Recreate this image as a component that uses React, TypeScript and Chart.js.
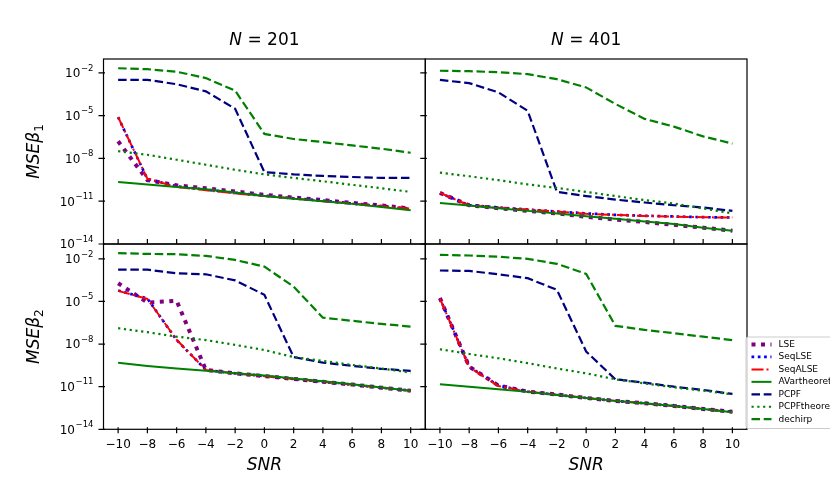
import React, { useEffect, useRef } from 'react';
import { Chart, registerables } from 'chart.js';

Chart.register(...registerables);

// SNR (dB) on the x axis, same for every panel
const snr = [-10, -8, -6, -4, -2, 0, 2, 4, 6, 8, 10];
const yTickExps = [-14, -11, -8, -5, -2];
const seriesNames = ['LSE', 'SeqLSE', 'SeqALSE', 'AVartheoretical', 'PCPF', 'PCPFtheoretical', 'dechirp'];

// beta1, N = 201
const lseB1N201 = [1.6e-7, 3.0e-10, 1.3e-10, 8.1e-11, 4.8e-11, 2.8e-11, 1.8e-11, 1.2e-11, 7.6e-12, 5.0e-12, 3.1e-12];
const seqLseB1N201 = [7.8e-6, 3.6e-10, 1.1e-10, 6.5e-11, 3.9e-11, 2.4e-11, 1.6e-11, 1.1e-11, 7.0e-12, 4.6e-12, 3.0e-12];
const seqAlseB1N201 = [7.8e-6, 3.8e-10, 1.0e-10, 5.9e-11, 3.5e-11, 2.3e-11, 1.6e-11, 1.0e-11, 6.9e-12, 4.5e-12, 3.0e-12];
const avB1N201 = [2.2e-10, 1.5e-10, 1.0e-10, 6.9e-11, 4.1e-11, 2.3e-11, 1.5e-11, 1.0e-11, 6.5e-12, 4.0e-12, 2.3e-12];
const pcpfB1N201 = [3.2e-3, 3.2e-3, 1.6e-3, 5.0e-4, 3.0e-5, 1.1e-9, 7.6e-10, 5.9e-10, 5.0e-10, 4.3e-10, 4.3e-10];
const pcpfThB1N201 = [3.2e-8, 1.8e-8, 8.1e-9, 3.6e-9, 1.6e-9, 7.6e-10, 4.3e-10, 2.5e-10, 1.4e-10, 8.1e-11, 4.5e-11];
const dechirpB1N201 = [2.1e-2, 1.8e-2, 1.2e-2, 4.3e-3, 5.6e-4, 5.2e-7, 2.3e-7, 1.4e-7, 8.1e-8, 4.8e-8, 2.5e-8];

// beta1, N = 401
const lseB1N401 = [3.8e-11, 5.2e-12, 3.2e-12, 2.1e-12, 1.4e-12, 8.1e-13, 5.2e-13, 3.5e-13, 2.2e-13, 1.4e-13, 8.5e-14];
const seqLseB1N401 = [3.8e-11, 5.2e-12, 3.6e-12, 2.6e-12, 1.9e-12, 1.4e-12, 1.1e-12, 9.5e-13, 8.5e-13, 7.6e-13, 7.2e-13];
const seqAlseB1N401 = [3.9e-11, 5.0e-12, 3.5e-12, 2.6e-12, 1.9e-12, 1.3e-12, 1.1e-12, 9.3e-13, 8.4e-13, 7.5e-13, 7.1e-13];
const avB1N401 = [7.6e-12, 5.0e-12, 3.2e-12, 2.1e-12, 1.4e-12, 8.9e-13, 5.9e-13, 3.8e-13, 2.5e-13, 1.4e-13, 8.5e-14];
const pcpfB1N401 = [3.2e-3, 1.9e-3, 4.3e-4, 2.2e-5, 4.5e-11, 2.3e-11, 1.3e-11, 8.1e-12, 5.2e-12, 3.6e-12, 2.1e-12];
const pcpfThB1N401 = [1.0e-9, 5.6e-10, 3.0e-10, 1.5e-10, 8.5e-11, 4.5e-11, 2.3e-11, 1.2e-11, 6.9e-12, 3.1e-12, 1.4e-12];
const dechirpB1N401 = [1.4e-2, 1.3e-2, 1.1e-2, 8.1e-3, 3.6e-3, 9.5e-4, 6.6e-5, 5.9e-6, 1.7e-6, 3.5e-7, 1.1e-7];

// beta2, N = 201
const lseB2N201 = [1.9e-4, 8.3e-6, 1.1e-5, 1.5e-10, 8.7e-11, 5.6e-11, 3.5e-11, 2.2e-11, 1.4e-11, 8.5e-12, 5.2e-12];
const seqLseB2N201 = [5.8e-5, 1.6e-5, 1.9e-8, 1.5e-10, 8.7e-11, 5.6e-11, 3.5e-11, 2.2e-11, 1.4e-11, 8.5e-12, 5.2e-12];
const seqAlseB2N201 = [5.5e-5, 1.5e-5, 2.0e-8, 1.5e-10, 8.5e-11, 5.5e-11, 3.5e-11, 2.2e-11, 1.4e-11, 8.4e-12, 5.1e-12];
const avB2N201 = [4.9e-10, 2.9e-10, 1.9e-10, 1.3e-10, 8.7e-11, 6.0e-11, 3.7e-11, 2.4e-11, 1.5e-11, 8.9e-12, 5.2e-12];
const pcpfB2N201 = [1.7e-3, 1.7e-3, 9.5e-4, 8.1e-4, 3.0e-4, 2.9e-5, 1.2e-9, 4.9e-10, 2.9e-10, 1.8e-10, 1.3e-10];
const pcpfThB2N201 = [1.3e-7, 6.8e-8, 3.3e-8, 1.9e-8, 8.7e-9, 3.8e-9, 1.2e-9, 6.5e-10, 3.4e-10, 1.9e-10, 9.8e-11];
const dechirpB2N201 = [2.5e-2, 2.2e-2, 2.1e-2, 1.6e-2, 8.3e-3, 2.8e-3, 1.1e-4, 7.2e-7, 4.3e-7, 2.6e-7, 1.7e-7];

// beta2, N = 401
const lseB2N401 = [1.7e-5, 2.6e-10, 1.2e-11, 4.5e-12, 2.8e-12, 1.6e-12, 1.0e-12, 6.8e-13, 4.4e-13, 2.7e-13, 1.7e-13];
const seqLseB2N401 = [1.7e-5, 2.5e-10, 1.2e-11, 4.4e-12, 2.7e-12, 1.6e-12, 1.0e-12, 6.8e-13, 4.4e-13, 2.7e-13, 1.7e-13];
const seqAlseB2N401 = [1.6e-5, 2.4e-10, 1.1e-11, 4.4e-12, 2.7e-12, 1.6e-12, 1.0e-12, 6.7e-13, 4.3e-13, 2.7e-13, 1.6e-13];
const avB2N401 = [1.5e-11, 1.0e-11, 6.5e-12, 4.3e-12, 2.6e-12, 1.6e-12, 1.0e-12, 6.8e-13, 4.4e-13, 2.7e-13, 1.6e-13];
const pcpfB2N401 = [1.5e-3, 1.4e-3, 8.1e-4, 4.3e-4, 6.5e-5, 3.0e-9, 3.3e-11, 1.9e-11, 1.0e-11, 5.9e-12, 3.1e-12];
const pcpfThB2N401 = [4.3e-9, 2.0e-9, 1.0e-9, 4.5e-10, 1.9e-10, 8.7e-11, 3.3e-11, 1.7e-11, 8.9e-12, 5.2e-12, 2.9e-12];
const dechirpB2N401 = [1.9e-2, 1.7e-2, 1.4e-2, 9.8e-3, 4.4e-3, 8.7e-4, 1.9e-7, 9.8e-8, 5.8e-8, 3.3e-8, 1.9e-8];

const W = 830;
const H = 491;
const FONT = "'DejaVu Sans', sans-serif";

// line look for each series, in the order of seriesNames
const seriesStyles = [
  { color: '#800080', width: 4, dash: [4, 5.5] },
  { color: '#0000ff', width: 2.7, dash: [2.7, 3.6] },
  { color: '#ff0000', width: 2, dash: [12, 3, 2, 3] },
  { color: '#008000', width: 2, dash: [] as number[] },
  { color: '#000080', width: 2.2, dash: [8.5, 3.7] },
  { color: '#008000', width: 2.2, dash: [2.2, 3.6] },
  { color: '#008000', width: 2.2, dash: [8.5, 3.7] },
];

interface PanelSpec {
  key: string;
  series: number[][];
  box: { left: number; right: number; top: number; bottom: number };
  yMax: number;
  title?: string;
  yLabelSub?: string;
  xLabels: boolean;
  yLabels: boolean;
  legend: boolean;
}

const panels: PanelSpec[] = [
  {
    key: 'tl',
    series: [lseB1N201, seqLseB1N201, seqAlseB1N201, avB1N201, pcpfB1N201, pcpfThB1N201, dechirpB1N201],
    box: { left: 103.5, right: 425.3, top: 59, bottom: 244 },
    yMax: Math.pow(10, -1.03),
    title: '201',
    yLabelSub: '1',
    xLabels: false,
    yLabels: true,
    legend: false,
  },
  {
    key: 'tr',
    series: [lseB1N401, seqLseB1N401, seqAlseB1N401, avB1N401, pcpfB1N401, pcpfThB1N401, dechirpB1N401],
    box: { left: 425.3, right: 747, top: 59, bottom: 244 },
    yMax: Math.pow(10, -1.03),
    title: '401',
    xLabels: false,
    yLabels: false,
    legend: false,
  },
  {
    key: 'bl',
    series: [lseB2N201, seqLseB2N201, seqAlseB2N201, avB2N201, pcpfB2N201, pcpfThB2N201, dechirpB2N201],
    box: { left: 103.5, right: 425.3, top: 244, bottom: 429.3 },
    yMax: Math.pow(10, -0.96),
    yLabelSub: '2',
    xLabels: true,
    yLabels: true,
    legend: false,
  },
  {
    key: 'br',
    series: [lseB2N401, seqLseB2N401, seqAlseB2N401, avB2N401, pcpfB2N401, pcpfThB2N401, dechirpB2N401],
    box: { left: 425.3, right: 747, top: 244, bottom: 429.3 },
    yMax: Math.pow(10, -0.96),
    xLabels: true,
    yLabels: false,
    legend: true,
  },
];

type Run = { text: string; size: number; italic?: boolean; dy?: number };

function setFont(ctx: CanvasRenderingContext2D, r: Run) {
  ctx.font = `${r.italic ? 'italic ' : ''}${r.size}px ${FONT}`;
}

function runsWidth(ctx: CanvasRenderingContext2D, runs: Run[]) {
  let w = 0;
  runs.forEach((r) => {
    setFont(ctx, r);
    w += ctx.measureText(r.text).width;
  });
  return w;
}

function drawRuns(ctx: CanvasRenderingContext2D, runs: Run[], x: number, y: number) {
  let cx = x;
  runs.forEach((r) => {
    setFont(ctx, r);
    ctx.fillText(r.text, cx, y + (r.dy || 0));
    cx += ctx.measureText(r.text).width;
  });
}

const decorPlugin = {
  id: 'decor',
  afterDraw(chart: any, _args: any, opts: any) {
    const ctx: CanvasRenderingContext2D = chart.ctx;
    const a = chart.chartArea;
    const xs = chart.scales.x;
    const ys = chart.scales.y;
    ctx.save();
    ctx.fillStyle = '#000';
    ctx.strokeStyle = '#000';
    ctx.textAlign = 'left';
    ctx.textBaseline = 'alphabetic';

    // spines
    ctx.lineWidth = 1.2;
    ctx.strokeRect(a.left, a.top, a.right - a.left, a.bottom - a.top);

    // tick marks
    ctx.beginPath();
    ys.ticks.forEach((t: any) => {
      const py = ys.getPixelForValue(t.value);
      ctx.moveTo(a.left - 5, py);
      ctx.lineTo(a.left + 1.5, py);
    });
    xs.ticks.forEach((t: any) => {
      const px = xs.getPixelForValue(t.value);
      if (opts.xLabels) {
        ctx.moveTo(px, a.bottom - 2);
        ctx.lineTo(px, a.bottom + 4);
      } else {
        ctx.moveTo(px, a.bottom - 5);
        ctx.lineTo(px, a.bottom);
      }
    });
    ctx.stroke();

    // y tick labels 10^n
    if (opts.yLabels) {
      ys.ticks.forEach((t: any) => {
        const py = ys.getPixelForValue(t.value);
        const e = Math.round(Math.log10(t.value));
        const runs: Run[] = [
          { text: '10', size: 12 },
          { text: ' ', size: 2 },
          { text: (e < 0 ? '\u2212' : '') + Math.abs(e), size: 8.5, dy: -6.6 },
        ];
        const w = runsWidth(ctx, runs);
        drawRuns(ctx, runs, a.left - 10 - w, py + 4.4);
      });
    }

    // x tick labels
    if (opts.xLabels) {
      ctx.font = `12px ${FONT}`;
      ctx.textAlign = 'center';
      xs.ticks.forEach((t: any) => {
        const px = xs.getPixelForValue(t.value);
        const v = t.value;
        const s = v < 0 ? '\u2212' + Math.abs(v) : String(v);
        ctx.fillText(s, px, a.bottom + 18.4);
      });
      ctx.textAlign = 'left';
      const runs: Run[] = [{ text: 'SNR', size: 17, italic: true }];
      const w = runsWidth(ctx, runs);
      drawRuns(ctx, runs, (a.left + a.right) / 2 - w / 2, 469.5);
    }

    // panel title
    if (opts.title) {
      const runs: Run[] = [
        { text: 'N', size: 17, italic: true },
        { text: ' = ' + opts.title, size: 17 },
      ];
      const w = runsWidth(ctx, runs);
      drawRuns(ctx, runs, (a.left + a.right) / 2 - w / 2, 45);
    }

    // y axis label MSE beta_k
    if (opts.yLabelSub) {
      const runs: Run[] = [
        { text: 'MSE\u03b2', size: 17, italic: true },
        { text: opts.yLabelSub, size: 12, dy: 3.5 },
      ];
      const w = runsWidth(ctx, runs);
      ctx.save();
      ctx.translate(33, (a.top + a.bottom) / 2);
      ctx.rotate(-Math.PI / 2);
      drawRuns(ctx, runs, -w / 2, 6);
      ctx.restore();
    }

    // figure legend (runs past the right edge of the figure)
    if (opts.legend) {
      const lx = 746;
      const ly = 337;
      const lw = 130;
      const lh = 91.5;
      const r = 2.5;
      ctx.beginPath();
      ctx.moveTo(lx + r, ly);
      ctx.arcTo(lx + lw, ly, lx + lw, ly + lh, r);
      ctx.arcTo(lx + lw, ly + lh, lx, ly + lh, r);
      ctx.arcTo(lx, ly + lh, lx, ly, r);
      ctx.arcTo(lx, ly, lx + lw, ly, r);
      ctx.closePath();
      ctx.fillStyle = 'rgba(255,255,255,0.8)';
      ctx.fill();
      ctx.strokeStyle = '#cccccc';
      ctx.lineWidth = 1;
      ctx.stroke();

      chart.data.datasets.forEach((ds: any, i: number) => {
        const cy = 344.5 + i * 12.45;
        ctx.beginPath();
        ctx.strokeStyle = ds.borderColor;
        ctx.lineWidth = ds.borderWidth;
        ctx.setLineDash(ds.borderDash);
        ctx.lineCap = 'butt';
        ctx.moveTo(751.5, cy);
        ctx.lineTo(771.5, cy);
        ctx.stroke();
        ctx.setLineDash([]);
        ctx.fillStyle = '#000';
        ctx.font = `9px ${FONT}`;
        ctx.textBaseline = 'middle';
        ctx.fillText(ds.label, 778.5, cy);
        ctx.textBaseline = 'alphabetic';
      });
    }
    ctx.restore();
  },
};

function buildConfig(p: PanelSpec): any {
  return {
    type: 'line',
    data: {
      datasets: seriesNames.map((name, i) => ({
        label: name,
        data: snr.map((x, j) => ({ x, y: p.series[i][j] })),
        borderColor: seriesStyles[i].color,
        borderWidth: seriesStyles[i].width,
        borderDash: seriesStyles[i].dash,
        borderCapStyle: 'butt',
        pointRadius: 0,
        fill: false,
        tension: 0,
        // later series on top, like the original plot order
        order: seriesNames.length - i,
      })),
    },
    options: {
      responsive: false,
      animation: false,
      events: [],
      layout: {
        autoPadding: false,
        padding: {
          left: p.box.left,
          right: W - p.box.right,
          top: p.box.top,
          bottom: H - p.box.bottom,
        },
      },
      scales: {
        x: {
          type: 'linear',
          min: -11,
          max: 11,
          afterBuildTicks: (s: any) => {
            s.ticks = snr.map((v) => ({ value: v }));
          },
          afterFit: (s: any) => {
            s.height = 0;
          },
          grid: { display: false },
          border: { display: false },
          ticks: { display: false },
        },
        y: {
          type: 'logarithmic',
          min: 1e-14,
          max: p.yMax,
          afterBuildTicks: (s: any) => {
            s.ticks = yTickExps.map((e) => ({ value: Math.pow(10, e) }));
          },
          afterFit: (s: any) => {
            s.width = 0;
          },
          grid: { display: false },
          border: { display: false },
          ticks: { display: false },
        },
      },
      plugins: {
        legend: { display: false },
        title: { display: false },
        tooltip: { enabled: false },
        decor: {
          title: p.title,
          yLabelSub: p.yLabelSub,
          xLabels: p.xLabels,
          yLabels: p.yLabels,
          legend: p.legend,
        },
      },
    },
    plugins: [decorPlugin],
  };
}

function Panel({ spec }: { spec: PanelSpec }) {
  const canvasRef = useRef<HTMLCanvasElement | null>(null);

  useEffect(() => {
    const canvas = canvasRef.current;
    if (!canvas) {
      return;
    }
    const chart = new Chart(canvas, buildConfig(spec));
    return () => {
      chart.destroy();
    };
  }, [spec]);

  return (
    <canvas
      ref={canvasRef}
      width={W}
      height={H}
      style={{ position: 'absolute', left: 0, top: 0, width: W, height: H }}
    />
  );
}

export default function App() {
  return (
    <div style={{ position: 'absolute', left: 0, top: 0, width: W, height: H, background: '#fff', overflow: 'hidden' }}>
      {panels.map((p) => (
        <Panel key={p.key} spec={p} />
      ))}
    </div>
  );
}
